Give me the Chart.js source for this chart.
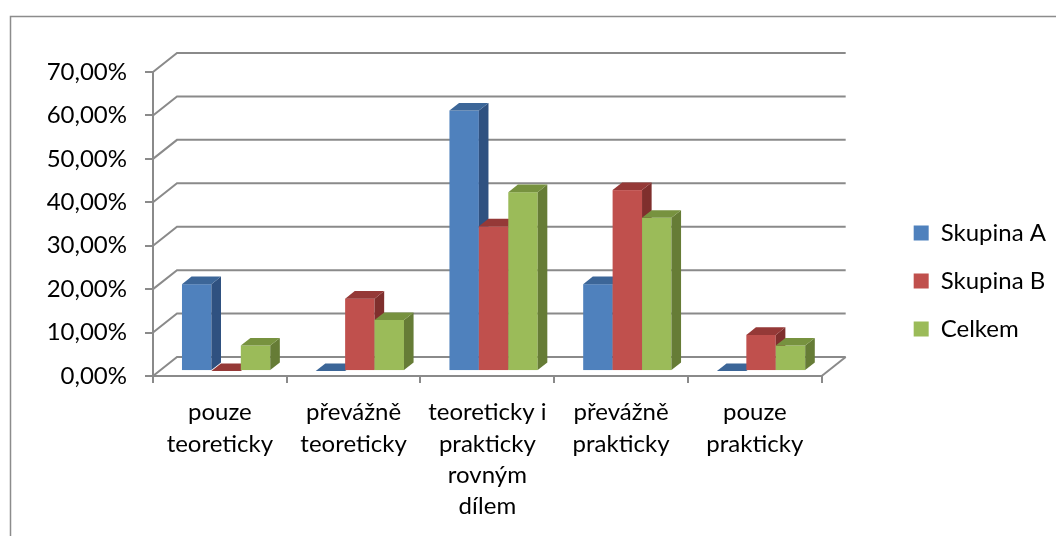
<!DOCTYPE html>
<html>
<head>
<meta charset="utf-8">
<script src="https://cdn.jsdelivr.net/npm/chart.js@4.4.1/dist/chart.umd.min.js"></script>
<style>
  html, body { margin: 0; padding: 0; background: #fff; }
  canvas { display: block; }
</style>
</head>
<body>
<canvas id="chart" width="1056" height="536"></canvas>
<script>
// data (percent)
const categories = [
  ['pouze', 'teoreticky'],
  ['převážně', 'teoreticky'],
  ['teoreticky i', 'prakticky', 'rovným', 'dílem'],
  ['převážně', 'prakticky'],
  ['pouze', 'prakticky']
];
const seriesNames = ['Skupina A', 'Skupina B', 'Celkem'];
const skupinaA = [20, 0, 60, 20, 0];
const skupinaB = [0, 16.67, 33.33, 41.67, 8.33];
const celkem = [5.88, 11.76, 41.18, 35.29, 5.88];
const yMax = 70;
const yStep = 10;

// colours: front / top / side of the 3D bars
const faces = [
  { front: '#4F81BD', top: '#3C6698', side: '#2F5180' },
  { front: '#C0504D', top: '#953937', side: '#7F2F2D' },
  { front: '#9BBB59', top: '#77923F', side: '#667C36' }
];
const gridColor = '#8a8a8a';
const depth = { dx: 24, dy: -19 };   // back wall offset
const barFront = 0.26;                // where the bar front sits in the depth
const barDepth = 0.40;                // how deep the bar is

const fmt = v => v.toFixed(2).replace('.', ',') + '%';

const bars3d = {
  id: 'bars3d',
  beforeDraw(chart) {
    const ctx = chart.ctx;
    ctx.save();
    ctx.strokeStyle = '#8c8c8c';
    ctx.lineWidth = 1.5;
    ctx.strokeRect(10.5, 16.5, 1200, 700);
    ctx.restore();
  },
  beforeDatasetsDraw(chart) {
    const ctx = chart.ctx;
    const a = chart.chartArea;
    const ys = chart.scales.y;
    const dx = depth.dx, dy = depth.dy;
    ctx.save();
    ctx.strokeStyle = gridColor;
    ctx.lineWidth = 2;
    ys.ticks.forEach(t => {
      const y = ys.getPixelForValue(t.value);
      ctx.beginPath();
      ctx.moveTo(a.left, y);
      ctx.lineTo(a.left + dx, y + dy);
      ctx.lineTo(a.right + dx, y + dy);
      ctx.stroke();
    });
    // right edge of the floor
    ctx.beginPath();
    ctx.moveTo(a.right, a.bottom);
    ctx.lineTo(a.right + dx, a.bottom + dy);
    ctx.stroke();

    const ox = dx * barFront, oy = dy * barFront;
    const ddx = dx * barDepth, ddy = dy * barDepth;
    chart.data.datasets.forEach((ds, i) => {
      const meta = chart.getDatasetMeta(i);
      const c = faces[i];
      meta.data.forEach(el => {
        const x0 = el.x - el.width / 2 + ox;
        const x1 = x0 + el.width;
        const yt = el.y + oy;
        const yb = el.base + oy;
        if (yb - yt > 0.5) {
          ctx.fillStyle = c.front;
          ctx.fillRect(x0, yt, el.width, yb - yt);
          ctx.fillStyle = c.side;
          ctx.beginPath();
          ctx.moveTo(x1, yt);
          ctx.lineTo(x1 + ddx, yt + ddy);
          ctx.lineTo(x1 + ddx, yb + ddy);
          ctx.lineTo(x1, yb);
          ctx.closePath();
          ctx.fill();
        }
        ctx.fillStyle = c.top;
        ctx.beginPath();
        ctx.moveTo(x0, yt);
        ctx.lineTo(x0 + ddx, yt + ddy);
        ctx.lineTo(x1 + ddx, yt + ddy);
        ctx.lineTo(x1, yt);
        ctx.closePath();
        ctx.fill();
      });
    });
    ctx.restore();
    return false;
  }
};

const font = { family: 'Lato', size: 24 };

const config = {
  type: 'bar',
  data: {
    labels: categories,
    datasets: [
      { label: seriesNames[0], data: skupinaA, backgroundColor: faces[0].front, borderWidth: 0 },
      { label: seriesNames[1], data: skupinaB, backgroundColor: faces[1].front, borderWidth: 0 },
      { label: seriesNames[2], data: celkem, backgroundColor: faces[2].front, borderWidth: 0 }
    ]
  },
  options: {
    responsive: false,
    animation: false,
    devicePixelRatio: 1,
    layout: { padding: { top: 26, bottom: 0, left: 0, right: 0 } },
    datasets: { bar: { categoryPercentage: 0.66, barPercentage: 1 } },
    plugins: {
      tooltip: { enabled: false },
      legend: {
        position: 'right',
        labels: {
          color: '#000',
          font: font,
          boxWidth: 15,
          boxHeight: 15,
          padding: 24
        }
      }
    },
    scales: {
      x: {
        grid: { offset: true, drawOnChartArea: false, tickLength: 7, color: gridColor, lineWidth: 2 },
        border: { color: gridColor, width: 2 },
        ticks: { color: '#000', font: { family: 'Lato', size: 24, lineHeight: 1.3 }, padding: 14, maxRotation: 0, autoSkip: false },
        afterFit(s) { s.height = 160; }
      },
      y: {
        min: 0,
        max: yMax,
        grid: { drawOnChartArea: false, tickLength: 8, color: gridColor, lineWidth: 2 },
        border: { color: gridColor, width: 2 },
        ticks: { stepSize: yStep, color: '#000', font: font, padding: 18, callback: v => fmt(v) },
        afterFit(s) { s.width = 153; }
      },
      gapTop: {
        position: 'top',
        display: true,
        grid: { display: false },
        border: { display: false },
        ticks: { display: false },
        afterFit(s) { s.height = 46; }
      },
      gap: {
        position: 'right',
        display: true,
        grid: { display: false },
        border: { display: false },
        ticks: { display: false },
        afterFit(s) { s.width = 68; }
      }
    }
  },
  plugins: [bars3d]
};

new Chart(document.getElementById('chart'), config);
</script>
</body>
</html>
